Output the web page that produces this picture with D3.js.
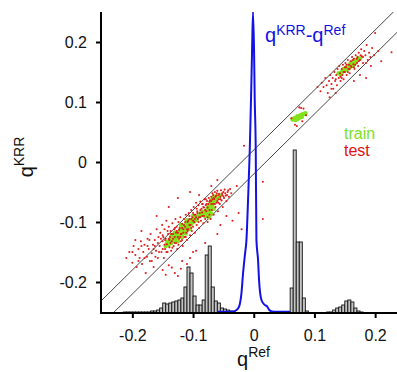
<!DOCTYPE html>
<html>
<head>
<meta charset="utf-8">
<script src="https://cdn.jsdelivr.net/npm/d3@7"></script>
<style>
  body { margin: 0; background: #fff; }
  text { font-family: "Liberation Sans", Arial, Helvetica, sans-serif; }
</style>
</head>
<body>
<svg id="chart" width="397" height="372"></svg>
<script>
// axis ticks
const tickValues = [-0.2, -0.1, 0, 0.1, 0.2];
const tickLabels = ["-0.2", "-0.1", "0", "0.1", "0.2"];

// +/- band around the diagonal
const bandOffsets = [0.02, -0.02];

// histogram of q^Ref (bin left edge, bin width 0.005, arbitrary counts)
const histLeft = [-0.215, -0.21, -0.205, -0.2, -0.195, -0.19, -0.185, -0.18, -0.175, -0.17, -0.165, -0.16,
  -0.155, -0.15, -0.145, -0.14, -0.135, -0.13, -0.125, -0.12, -0.115, -0.11, -0.105, -0.1, -0.095, -0.09,
  -0.085, -0.08, -0.075, -0.07, -0.065, -0.06, -0.055, -0.05, -0.045, -0.04, -0.035,
  0.055, 0.06, 0.065, 0.07, 0.075, 0.08, 0.085,
  0.12, 0.125, 0.13, 0.135, 0.14, 0.145, 0.15, 0.155, 0.16, 0.165, 0.17, 0.175];
const histCount = [1, 1, 1, 1, 1, 1, 1, 1, 1, 2, 2, 3,
  5, 10, 9, 10, 11, 12, 13, 15, 26, 46, 40, 17, 8, 8,
  13, 58, 67, 26, 12, 10, 5, 4, 3, 2, 1,
  1, 25, 163, 71, 71, 15, 2,
  1, 1, 3, 5, 6, 8, 12, 13, 11, 5, 2, 1];

// error distribution q^KRR - q^Ref (relative density)
const errDq = [-0.06, -0.045, -0.0346, -0.0285, -0.0242, -0.0203, -0.0176, -0.0143, -0.012, -0.0095, -0.0066,
  -0.0045, -0.0028, -0.0012, 0.0005, 0.0016, 0.0033, 0.0044, 0.0071, 0.0087, 0.0127, 0.018, 0.022, 0.0255,
  0.03, 0.04, 0.06];
const errDensity = [0.004, 0.004, 0.005, 0.01, 0.021, 0.065, 0.132, 0.198, 0.243, 0.37, 0.54,
  0.71, 0.87, 1.0, 0.87, 0.71, 0.54, 0.243, 0.176, 0.11, 0.043, 0.027, 0.022, 0.01,
  0.005, 0.004, 0.004];

// train points [q^Ref, q^KRR]
const trainPts = [
  [-0.145,-0.140],[-0.142,-0.133],[-0.140,-0.138],[-0.138,-0.130],[-0.136,-0.135],[-0.134,-0.127],[-0.133,-0.132],
  [-0.131,-0.124],[-0.130,-0.130],[-0.128,-0.121],[-0.127,-0.127],[-0.126,-0.118],[-0.124,-0.124],[-0.122,-0.116],
  [-0.121,-0.121],[-0.120,-0.112],[-0.118,-0.118],[-0.117,-0.110],[-0.115,-0.114],[-0.114,-0.106],[-0.112,-0.111],
  [-0.111,-0.104],[-0.110,-0.108],[-0.108,-0.101],[-0.107,-0.106],[-0.105,-0.099],[-0.104,-0.104],[-0.102,-0.097],
  [-0.101,-0.101],[-0.099,-0.095],[-0.098,-0.099],[-0.096,-0.093],[-0.094,-0.096],[-0.125,-0.132],[-0.118,-0.125],
  [-0.112,-0.119],[-0.130,-0.118],[-0.120,-0.105],[-0.110,-0.097],[-0.135,-0.122],[-0.106,-0.112],[-0.100,-0.090],
  [-0.143,-0.136],[-0.139,-0.134],[-0.132,-0.128],[-0.129,-0.125],[-0.123,-0.120],[-0.119,-0.114],[-0.116,-0.117],
  [-0.113,-0.108],[-0.109,-0.104],[-0.103,-0.100],[-0.097,-0.096],
  [-0.092,-0.091],[-0.090,-0.088],[-0.088,-0.086],[-0.086,-0.088],[-0.084,-0.083],[-0.082,-0.085],
  [-0.080,-0.090],[-0.078,-0.085],[-0.077,-0.080],[-0.076,-0.088],[-0.075,-0.076],[-0.074,-0.083],[-0.073,-0.072],
  [-0.072,-0.079],[-0.071,-0.068],[-0.070,-0.075],[-0.069,-0.064],[-0.068,-0.071],[-0.067,-0.061],[-0.066,-0.068],
  [-0.065,-0.058],[-0.064,-0.064],[-0.062,-0.060],[-0.060,-0.057],[-0.058,-0.060],[-0.056,-0.056],[-0.074,-0.092],
  [-0.070,-0.086],[-0.066,-0.078],[-0.079,-0.082],[-0.076,-0.079],[-0.073,-0.076],[-0.071,-0.072],[-0.068,-0.066],
  [-0.063,-0.062],
  [0.064,0.071],[0.067,0.073],[0.070,0.074],[0.072,0.076],[0.075,0.076],[0.077,0.078],[0.080,0.079],[0.082,0.080],
  [0.085,0.081],[0.069,0.070],[0.074,0.073],[0.079,0.075],[0.072,0.072],
  [0.140,0.148],[0.145,0.150],[0.148,0.155],[0.152,0.157],[0.155,0.160],[0.158,0.162],[0.160,0.165],[0.163,0.166],
  [0.166,0.169],[0.170,0.170],[0.172,0.173],[0.150,0.152],[0.156,0.156],[0.162,0.160],[0.168,0.166],
  [0.143,0.146],[0.153,0.155],[0.159,0.159],[0.165,0.163],[0.175,0.172]
];

// test points [q^Ref, q^KRR]
const testPts = [
  [-0.205,-0.150],[-0.200,-0.168],[-0.198,-0.140],[-0.195,-0.155],[-0.193,-0.175],[-0.190,-0.145],[-0.188,-0.160],
  [-0.186,-0.132],[-0.184,-0.170],[-0.182,-0.150],[-0.180,-0.138],[-0.178,-0.185],[-0.176,-0.158],[-0.175,-0.128],
  [-0.173,-0.145],[-0.171,-0.165],[-0.170,-0.120],[-0.168,-0.152],[-0.166,-0.138],[-0.165,-0.175],[-0.163,-0.130],
  [-0.161,-0.148],[-0.160,-0.112],[-0.158,-0.160],[-0.157,-0.125],
  [-0.155,-0.140],[-0.154,-0.118],[-0.152,-0.150],[-0.151,-0.105],[-0.150,-0.132],[-0.149,-0.125],[-0.148,-0.160],
  [-0.147,-0.112],[-0.146,-0.145],[-0.145,-0.128],[-0.144,-0.098],[-0.143,-0.137],[-0.142,-0.150],[-0.141,-0.120],
  [-0.140,-0.108],[-0.139,-0.142],[-0.138,-0.125],[-0.137,-0.115],[-0.136,-0.148],[-0.135,-0.132],[-0.134,-0.102],
  [-0.133,-0.120],[-0.132,-0.140],[-0.131,-0.112],[-0.130,-0.125],[-0.129,-0.095],[-0.128,-0.135],[-0.127,-0.108],
  [-0.126,-0.145],[-0.125,-0.118],[-0.124,-0.100],[-0.123,-0.128],[-0.122,-0.110],[-0.121,-0.092],[-0.120,-0.132],
  [-0.119,-0.120],[-0.118,-0.103],[-0.117,-0.140],[-0.116,-0.112],[-0.115,-0.095],[-0.114,-0.125],[-0.113,-0.108],
  [-0.112,-0.088],[-0.111,-0.118],[-0.110,-0.130],[-0.109,-0.100],
  [-0.108,-0.112],[-0.107,-0.085],[-0.106,-0.095],[-0.105,-0.122],[-0.104,-0.105],[-0.103,-0.080],[-0.102,-0.115],
  [-0.101,-0.092],[-0.100,-0.108],[-0.099,-0.075],[-0.098,-0.100],[-0.097,-0.118],[-0.096,-0.088],[-0.095,-0.068],
  [-0.094,-0.105],[-0.093,-0.082],[-0.092,-0.095],[-0.091,-0.072],[-0.090,-0.110],[-0.089,-0.085],[-0.088,-0.066],
  [-0.087,-0.098],[-0.086,-0.078],[-0.085,-0.090],[-0.084,-0.070],[-0.083,-0.102],[-0.082,-0.076],[-0.081,-0.062],
  [-0.080,-0.095],[-0.079,-0.072],[-0.078,-0.082],[-0.077,-0.065],[-0.076,-0.100],[-0.075,-0.070],[-0.074,-0.060],
  [-0.073,-0.088],[-0.072,-0.064],[-0.071,-0.095],
  [-0.070,-0.058],[-0.069,-0.080],[-0.068,-0.052],[-0.067,-0.070],[-0.066,-0.088],[-0.065,-0.062],[-0.064,-0.050],
  [-0.063,-0.075],[-0.062,-0.056],[-0.061,-0.068],[-0.060,-0.048],[-0.059,-0.082],[-0.058,-0.062],[-0.057,-0.053],
  [-0.056,-0.070],[-0.055,-0.058],[-0.054,-0.047],[-0.053,-0.064],[-0.052,-0.055],[-0.051,-0.075],[-0.050,-0.050],
  [-0.049,-0.060],[-0.048,-0.046],[-0.046,-0.056],[-0.045,-0.065],[-0.043,-0.050],[-0.041,-0.058],[-0.039,-0.045],
  [-0.037,-0.052],
  [-0.150,-0.122],[-0.146,-0.130],[-0.142,-0.115],[-0.139,-0.130],[-0.136,-0.120],[-0.133,-0.128],[-0.130,-0.110],
  [-0.128,-0.118],[-0.125,-0.125],[-0.123,-0.113],[-0.120,-0.120],[-0.118,-0.110],[-0.116,-0.118],[-0.113,-0.100],
  [-0.110,-0.112],[-0.108,-0.098],[-0.106,-0.105],[-0.103,-0.095],[-0.100,-0.098],[-0.098,-0.088],[-0.095,-0.092],
  [-0.093,-0.085],[-0.090,-0.092],[-0.088,-0.080],[-0.085,-0.084],[-0.083,-0.075],[-0.080,-0.080],[-0.078,-0.070],
  [-0.076,-0.076],[-0.073,-0.066],[-0.070,-0.070],[-0.068,-0.062],[-0.066,-0.060],[-0.063,-0.058],[-0.060,-0.065],
  [-0.058,-0.055],[-0.055,-0.062],[-0.052,-0.052],[-0.050,-0.057],[-0.047,-0.052],[-0.044,-0.055],[-0.042,-0.047],
  [-0.165,-0.145],[-0.162,-0.158],[-0.158,-0.135],[-0.156,-0.150],[-0.153,-0.128],[-0.150,-0.145],[-0.147,-0.138],
  [-0.144,-0.150],[-0.140,-0.128],[-0.137,-0.135],[-0.134,-0.143],[-0.130,-0.135],[-0.127,-0.115],[-0.124,-0.138],
  [-0.121,-0.125],[-0.118,-0.130],[-0.115,-0.105],[-0.112,-0.125],[-0.109,-0.115],[-0.106,-0.090],[-0.103,-0.110],
  [-0.100,-0.085],[-0.097,-0.095],[-0.094,-0.078],[-0.091,-0.100],[-0.088,-0.092],[-0.085,-0.070],[-0.082,-0.090],
  [-0.079,-0.062],[-0.076,-0.092],[-0.073,-0.080],[-0.070,-0.065],[-0.067,-0.055],[-0.064,-0.070],[-0.061,-0.052],
  [-0.058,-0.068],[-0.195,-0.130],[-0.190,-0.165],[-0.185,-0.140],[-0.180,-0.160],[-0.175,-0.140],[-0.172,-0.130],
  [-0.168,-0.165],[-0.163,-0.140],[-0.210,-0.160],[-0.200,-0.150],
  [-0.028,-0.040],[-0.025,-0.085],[-0.020,-0.112],[-0.035,-0.098],[-0.045,-0.090],[-0.055,-0.105],[-0.060,-0.120],
  [-0.080,-0.135],[-0.095,-0.148],[-0.118,-0.165],[-0.140,-0.172],[-0.125,-0.060],[-0.105,-0.050],[-0.140,-0.075],
  [-0.160,-0.090],[-0.185,-0.115],[-0.016,0.027],[0.015,-0.033],[0.015,-0.095],[-0.070,-0.040],[-0.090,-0.055],
  [-0.060,-0.030],[-0.130,-0.185],[-0.120,-0.178],[-0.110,-0.170],[-0.135,-0.176],[-0.145,-0.188],[-0.150,-0.180],
  [-0.125,-0.190],[-0.105,-0.160],[-0.100,-0.150],
  [0.078,0.090],[0.082,0.089],[0.075,0.091],[0.071,0.060],[0.068,0.062],[0.086,0.078],[0.062,0.073],[0.080,0.068],
  [0.105,0.125],[0.110,0.118],[0.112,0.132],[0.115,0.125],[0.118,0.140],[0.120,0.128],[0.122,0.115],[0.124,0.135],
  [0.126,0.145],[0.128,0.130],[0.130,0.140],[0.131,0.122],[0.133,0.150],[0.134,0.135],[0.136,0.145],[0.137,0.128],
  [0.138,0.155],[0.140,0.140],[0.141,0.160],[0.142,0.148],[0.143,0.135],[0.145,0.155],[0.146,0.145],[0.147,0.162],
  [0.148,0.138],[0.150,0.150],[0.151,0.165],[0.152,0.158],[0.153,0.145],[0.155,0.170],[0.156,0.155],[0.157,0.162],
  [0.158,0.148],[0.160,0.168],[0.161,0.158],[0.162,0.175],[0.164,0.163],[0.165,0.172],[0.166,0.155],[0.168,0.178],
  [0.170,0.165],[0.171,0.175],[0.173,0.182],[0.175,0.170],[0.177,0.188],[0.178,0.176],[0.180,0.165],[0.182,0.185],
  [0.184,0.178],[0.186,0.195],[0.188,0.170],[0.190,0.182],[0.193,0.160],[0.195,0.190],[0.198,0.178],[0.200,0.215],
  [0.205,0.185],[0.210,0.168],[0.227,0.183],[0.185,0.140],[0.175,0.145],[0.165,0.135],[0.125,0.108],[0.135,0.115],
  [0.145,0.140],[0.150,0.158],[0.155,0.150],[0.160,0.160],[0.163,0.170],[0.167,0.162],[0.170,0.172],[0.173,0.168],
  [0.176,0.178],[0.180,0.175],[0.158,0.155],[0.153,0.162],[0.148,0.150],[0.143,0.142],[0.165,0.158],[0.172,0.160],
  [0.185,0.165],[0.192,0.175],[0.135,0.138],[0.128,0.122]
];

const binWidth = 0.005;

const svg = d3.select("#chart");

const x = d3.scaleLinear().domain([-0.25, 0.25]).range([102, 405.5]);
const y = d3.scaleLinear().domain([-0.25, 0.25]).range([312, 12]);
// separate vertical scales for histogram counts and error density
const hy = d3.scaleLinear().domain([0, 300]).range([313, 13]);
const dy = d3.scaleLinear().domain([0, 1]).range([313, 12]);

svg.append("defs").append("clipPath").attr("id", "plot")
  .append("rect").attr("x", 101).attr("y", 12).attr("width", 300).attr("height", 301);

const plot = svg.append("g").attr("clip-path", "url(#plot)");

// diagonal band
plot.selectAll(".band").data(bandOffsets).enter()
  .append("line")
  .attr("x1", x(-0.3)).attr("y1", d => y(-0.3 + d))
  .attr("x2", x(0.3)).attr("y2", d => y(0.3 + d))
  .attr("stroke", "#333").attr("stroke-width", 0.9);

// histogram
plot.selectAll(".bar").data(histLeft).enter()
  .append("rect")
  .attr("x", d => x(d))
  .attr("y", (d, i) => hy(histCount[i]))
  .attr("width", x(binWidth) - x(0))
  .attr("height", (d, i) => hy(0) - hy(histCount[i]))
  .attr("fill", "#c4c4c4")
  .attr("stroke", "#111")
  .attr("stroke-width", 0.9);

// scatter
plot.selectAll(".train").data(trainPts).enter()
  .append("circle")
  .attr("cx", d => x(d[0])).attr("cy", d => y(d[1]))
  .attr("r", 2.3).attr("fill", "#84e21c");

plot.selectAll(".test").data(testPts).enter()
  .append("circle")
  .attr("cx", d => x(d[0])).attr("cy", d => y(d[1]))
  .attr("r", 1.05).attr("fill", "#e31a1a");

// error distribution
const errLine = d3.line()
  .x((d, i) => x(errDq[i]))
  .y(d => dy(d))
  .curve(d3.curveMonotoneX);

plot.append("path")
  .datum(errDensity)
  .attr("d", errLine)
  .attr("fill", "none")
  .attr("stroke", "#1212e6")
  .attr("stroke-width", 2);

// axes
const xAxis = d3.axisBottom(x).tickValues(tickValues)
  .tickFormat((d, i) => tickLabels[i]).tickSizeOuter(0).tickSize(5).tickPadding(12);
const yAxis = d3.axisLeft(y).tickValues(tickValues)
  .tickFormat((d, i) => tickLabels[i]).tickSizeOuter(0).tickSize(5).tickPadding(9);

const gx = svg.append("g").attr("transform", "translate(0,313)").call(xAxis);
const gy = svg.append("g").attr("transform", "translate(101,0)").call(yAxis);
gx.select(".domain").attr("d", "M100,0H400");
gy.select(".domain").attr("d", "M0,12V314");
[gx, gy].forEach(g => {
  g.selectAll(".domain").attr("stroke", "#000").attr("stroke-width", 2);
  g.selectAll(".tick line").attr("stroke", "#000").attr("stroke-width", 2);
  g.selectAll(".tick text").attr("fill", "#111").style("font-size", "16px");
});

// axis titles
const xt = svg.append("text").attr("x", 237).attr("y", 366).attr("fill", "#111");
xt.append("tspan").style("font-size", "20px").text("q");
xt.append("tspan").style("font-size", "14px").attr("dy", -9).text("Ref");

const yt = svg.append("text").attr("transform", "translate(33,157) rotate(-90)")
  .attr("text-anchor", "middle").attr("fill", "#111");
yt.append("tspan").style("font-size", "20px").text("q");
yt.append("tspan").style("font-size", "14px").attr("dy", -9).text("KRR");

// blue label
const bl = svg.append("text").attr("x", 265).attr("y", 42).attr("fill", "#1212e6");
bl.append("tspan").style("font-size", "20px").text("q");
bl.append("tspan").style("font-size", "14px").attr("dy", -7).text("KRR");
bl.append("tspan").style("font-size", "20px").attr("dy", 7).text("-q");
bl.append("tspan").style("font-size", "14px").attr("dy", -7).text("Ref");

// legend
const legend = [["train", "#7ee01a"], ["test", "#e01010"]];
svg.selectAll(".leg").data(legend).enter()
  .append("text")
  .attr("x", 344).attr("y", (d, i) => 139 + i * 17)
  .style("font-size", "16px")
  .attr("fill", d => d[1])
  .text(d => d[0]);
</script>
</body>
</html>
